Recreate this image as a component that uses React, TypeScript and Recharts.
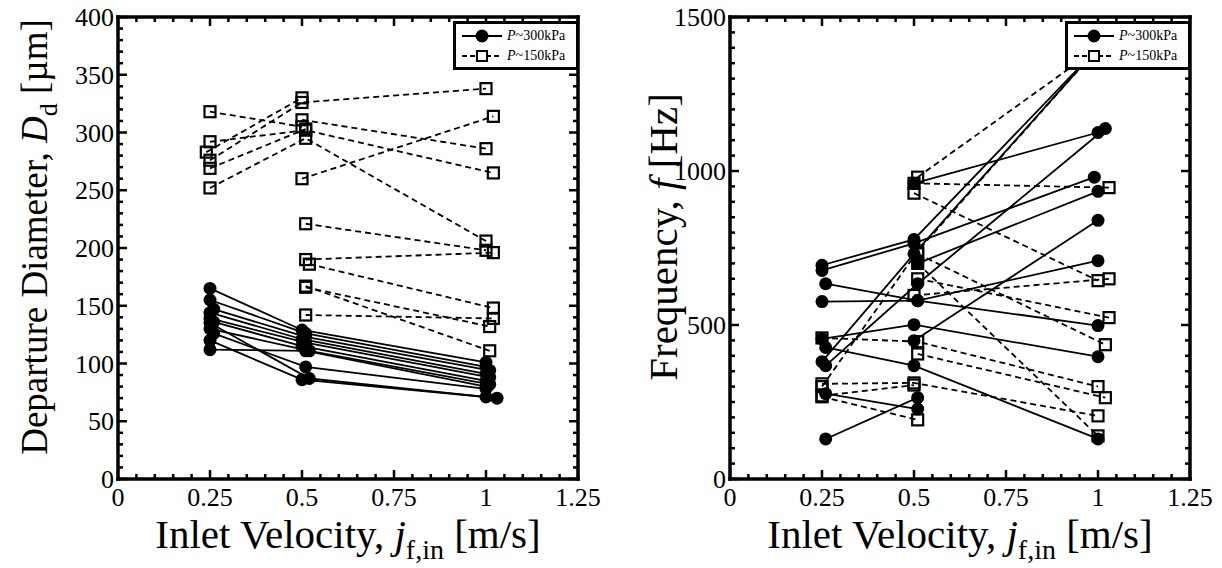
import React from 'react';
import { LineChart, Line, XAxis, YAxis, Legend } from 'recharts';

const FONT = '"Liberation Serif", "Times New Roman", Times, serif';

type Pt = [number, number];

// ---------- axis ticks ----------
const xMajorTicks = [0, 0.25, 0.5, 0.75, 1, 1.25];
const xMinorStep = 0.05;
const xMax = 1.25;

const ddMajorTicks = [0, 50, 100, 150, 200, 250, 300, 350, 400];
const ddMinorStep = 10;
const ddMax = 400;

const fMajorTicks = [0, 500, 1000, 1500];
const fMinorStep = 50;
const fMax = 1500;

// ---------- Departure diameter (um) ----------
// P ~ 300 kPa (solid, filled circles)
const dd300_1: Pt[] = [[0.25, 165], [0.5, 129], [1.0, 101]];
const dd300_2: Pt[] = [[0.25, 155], [0.51, 126], [1.0, 97]];
const dd300_3: Pt[] = [[0.26, 147], [0.51, 123], [1.01, 94]];
const dd300_4: Pt[] = [[0.25, 144], [0.5, 121], [1.0, 91]];
const dd300_5: Pt[] = [[0.25, 139], [0.51, 118], [1.01, 88]];
const dd300_6: Pt[] = [[0.26, 136], [0.5, 115], [1.0, 85]];
const dd300_7: Pt[] = [[0.25, 130], [0.52, 111], [1.01, 82]];
const dd300_8: Pt[] = [[0.26, 126], [0.51, 97], [1.0, 78]];
const dd300_9: Pt[] = [[0.25, 120], [0.5, 86], [1.0, 71]];
const dd300_10: Pt[] = [[0.25, 112], [0.51, 111], [1.0, 80]];
const dd300_11: Pt[] = [[0.25, 135], [0.52, 87], [1.03, 70]];
// P ~ 150 kPa (dashed, open squares)
const dd150_1: Pt[] = [[0.25, 318], [0.5, 305]];
const dd150_2: Pt[] = [[0.25, 292], [0.51, 302], [1.02, 265]];
const dd150_3: Pt[] = [[0.24, 283], [0.5, 330]];
const dd150_4: Pt[] = [[0.25, 276], [0.5, 326], [1.0, 338]];
const dd150_5: Pt[] = [[0.25, 269], [0.51, 303]];
const dd150_6: Pt[] = [[0.25, 252], [0.51, 295], [1.0, 206]];
const dd150_7: Pt[] = [[0.5, 311], [1.0, 286]];
const dd150_8: Pt[] = [[0.5, 260], [1.02, 314]];
const dd150_9: Pt[] = [[0.51, 221], [1.0, 198]];
const dd150_10: Pt[] = [[0.51, 190], [1.02, 196]];
const dd150_11: Pt[] = [[0.52, 186], [1.02, 148]];
const dd150_12: Pt[] = [[0.51, 166], [1.01, 132]];
const dd150_13: Pt[] = [[0.51, 167], [1.01, 111]];
const dd150_14: Pt[] = [[0.51, 142], [1.02, 139]];

const dd300Series = [dd300_1, dd300_2, dd300_3, dd300_4, dd300_5, dd300_6, dd300_7, dd300_8, dd300_9, dd300_10, dd300_11];
const dd150Series = [dd150_1, dd150_2, dd150_3, dd150_4, dd150_5, dd150_6, dd150_7, dd150_8, dd150_9, dd150_10, dd150_11, dd150_12, dd150_13, dd150_14];

// ---------- Frequency (Hz) ----------
// P ~ 300 kPa
const f300_1: Pt[] = [[0.25, 694], [0.5, 778], [1.0, 1400]];
const f300_2: Pt[] = [[0.25, 677], [0.5, 765], [0.99, 980]];
const f300_3: Pt[] = [[0.26, 634], [0.51, 579], [1.0, 498]];
const f300_4: Pt[] = [[0.25, 576], [0.51, 579], [1.0, 709]];
const f300_5: Pt[] = [[0.25, 455], [0.5, 501], [1.0, 397]];
const f300_6: Pt[] = [[0.26, 427], [0.5, 368], [1.0, 130]];
const f300_7: Pt[] = [[0.25, 381], [0.5, 731], [1.0, 1400]];
const f300_8: Pt[] = [[0.26, 368], [0.51, 634], [1.02, 1138]];
const f300_9: Pt[] = [[0.26, 277], [0.51, 227]];
const f300_10: Pt[] = [[0.26, 130], [0.51, 264]];
const f300_11: Pt[] = [[0.5, 960], [1.0, 1125]];
const f300_12: Pt[] = [[0.5, 449], [1.0, 840]];
const f300_13: Pt[] = [[0.51, 700], [1.0, 934]];
// P ~ 150 kPa
const f150_1: Pt[] = [[0.25, 458], [0.51, 446], [1.0, 300]];
const f150_2: Pt[] = [[0.25, 309], [0.5, 312], [1.0, 205]];
const f150_3: Pt[] = [[0.25, 267], [0.51, 192]];
const f150_4: Pt[] = [[0.25, 300], [0.51, 740], [1.0, 1400]];
const f150_5: Pt[] = [[0.51, 980], [1.0, 1400]];
const f150_6: Pt[] = [[0.5, 960], [1.03, 946]];
const f150_7: Pt[] = [[0.5, 928], [1.0, 644]];
const f150_8: Pt[] = [[0.5, 596], [1.03, 650]];
const f150_9: Pt[] = [[0.51, 650], [1.03, 524]];
const f150_10: Pt[] = [[0.51, 731], [1.02, 436]];
const f150_11: Pt[] = [[0.51, 700], [1.0, 140]];
const f150_12: Pt[] = [[0.51, 406], [1.02, 264]];
const f150_13: Pt[] = [[0.25, 270], [0.5, 305]];

const f300Series = [f300_1, f300_2, f300_3, f300_4, f300_5, f300_6, f300_7, f300_8, f300_9, f300_10, f300_11, f300_12, f300_13];
const f150Series = [f150_1, f150_2, f150_3, f150_4, f150_5, f150_6, f150_7, f150_8, f150_9, f150_10, f150_11, f150_12, f150_13];

// ---------- legend ----------
const legendItems = [
  { sym: 'P', label: '~300kPa', dashed: false },
  { sym: 'P', label: '~150kPa', dashed: true },
];

// ---------- helpers ----------
const makeTicks = (max: number, step: number) => {
  const out: number[] = [];
  const n = Math.round(max / step);
  for (let i = 0; i <= n; i++) out.push(Number((i * step).toFixed(4)));
  return out;
};
const isMajor = (v: number, majors: number[]) => majors.some((m) => Math.abs(m - v) < 1e-6);
const toObj = (s: Pt[]) => s.map(([x, y]) => ({ x, y }));

const TICK_SW = 2.5;
const MAJ_LEN = 9;
const MIN_LEN = 5;
const TICK_FS = 26;

const BottomTick = (p: any) => {
  const { x, y, payload, majors } = p;
  const major = isMajor(payload.value, majors);
  return (
    <g>
      <line x1={x} x2={x} y1={y} y2={y - (major ? MAJ_LEN : MIN_LEN)} stroke="#000" strokeWidth={TICK_SW} />
      {major && (
        <text x={x} y={y + 27} textAnchor="middle" fontFamily={FONT} fontSize={TICK_FS} fill="#000">
          {String(payload.value)}
        </text>
      )}
    </g>
  );
};
const TopTick = (p: any) => {
  const { x, y, payload, majors } = p;
  const major = isMajor(payload.value, majors);
  return <line x1={x} x2={x} y1={y} y2={y + (major ? MAJ_LEN : MIN_LEN)} stroke="#000" strokeWidth={TICK_SW} />;
};
const LeftTick = (p: any) => {
  const { x, y, payload, majors } = p;
  const major = isMajor(payload.value, majors);
  return (
    <g>
      <line x1={x} x2={x + (major ? MAJ_LEN : MIN_LEN)} y1={y} y2={y} stroke="#000" strokeWidth={TICK_SW} />
      {major && (
        <text x={x - 4} y={y + 9} textAnchor="end" fontFamily={FONT} fontSize={TICK_FS} fill="#000">
          {String(payload.value)}
        </text>
      )}
    </g>
  );
};
const RightTick = (p: any) => {
  const { x, y, payload, majors } = p;
  const major = isMajor(payload.value, majors);
  return <line x1={x} x2={x - (major ? MAJ_LEN : MIN_LEN)} y1={y} y2={y} stroke="#000" strokeWidth={TICK_SW} />;
};

const circleDot = (p: any) => {
  if (p.cx == null || p.cy == null) return <g key={`c-${p.index}`} />;
  return <circle key={`c-${p.index}`} cx={p.cx} cy={p.cy} r={6.5} fill="#000" stroke="none" />;
};
const squareDot = (p: any) => {
  if (p.cx == null || p.cy == null) return <g key={`s-${p.index}`} />;
  return (
    <rect key={`s-${p.index}`} x={p.cx - 5.5} y={p.cy - 5.5} width={11} height={11} fill="none" stroke="#000" strokeWidth={2.2} />
  );
};

const LegendBox = () => (
  <div
    style={{
      border: '3px solid #000',
      background: '#fff',
      width: 115,
      padding: '2px 0 1px 5px',
      fontFamily: FONT,
      fontSize: 14,
      lineHeight: '20px',
      boxSizing: 'content-box',
    }}
  >
    {legendItems.map((it, i) => (
      <div key={i} style={{ display: 'flex', alignItems: 'center', height: 20 }}>
        <svg width={42} height={16} style={{ display: 'block' }}>
          <line x1={1} x2={41} y1={8} y2={8} stroke="#000" strokeWidth={1.8} strokeDasharray={it.dashed ? '5 3' : undefined} />
          {it.dashed ? (
            <rect x={16} y={3} width={10} height={10} fill="#fff" stroke="#000" strokeWidth={2} />
          ) : (
            <circle cx={21} cy={8} r={6.5} fill="#000" />
          )}
        </svg>
        <span style={{ marginLeft: 4, whiteSpace: 'nowrap' }}>
          <i>{it.sym}</i>
          {it.label}
        </span>
      </div>
    ))}
  </div>
);

const xTitle = (p: any) => {
  const vb = p.viewBox || {};
  return (
    <text x={vb.x + vb.width / 2} y={vb.y + 69} textAnchor="middle" fontFamily={FONT} fontSize={41} fill="#000">
      Inlet Velocity,{' '}
      <tspan fontStyle="italic">j</tspan>
      <tspan dy={11} fontSize={28}>f,in</tspan>
      <tspan dy={-11}> [m/s]</tspan>
    </text>
  );
};

const makeYTitle = (kind: 'dd' | 'f', cx: number, cy: number) => () => (
  <text
    x={cx}
    y={cy}
    transform={`rotate(-90, ${cx}, ${cy})`}
    textAnchor="middle"
    fontFamily={FONT}
    fontSize={kind === 'dd' ? 37 : 41}
    fill="#000"
  >
    {kind === 'dd' ? (
      <>
        Departure Diameter,{' '}
        <tspan fontStyle="italic">D</tspan>
        <tspan dy={10} fontSize={26}>d</tspan>
        <tspan dy={-10}> [µm]</tspan>
      </>
    ) : (
      <>
        Frequency, <tspan fontStyle="italic">f</tspan> [Hz]
      </>
    )}
  </text>
);

const axisLineStyle = { stroke: '#000', strokeWidth: 3.5, strokeLinecap: 'square' as const };

type PanelProps = {
  high: Pt[][];
  low: Pt[][];
  yMax: number;
  yMajors: number[];
  yMinorStep: number;
  kind: 'dd' | 'f';
  margin: { top: number; right: number; bottom: number; left: number };
  yTitleX: number;
  legendLeft: number;
};

const Panel = ({ high, low, yMax, yMajors, yMinorStep, kind, margin, yTitleX, legendLeft }: PanelProps) => {
  const xTicks = makeTicks(xMax, xMinorStep);
  const yTicks = makeTicks(yMax, yMinorStep);
  return (
    <LineChart width={611} height={568} margin={margin} style={{ background: '#fff' }}>
      <XAxis
        xAxisId="b"
        type="number"
        dataKey="x"
        domain={[0, xMax]}
        allowDataOverflow
        ticks={xTicks}
        interval={0}
        tickSize={0}
        tickMargin={0}
        tickLine={false}
        axisLine={axisLineStyle}
        tick={<BottomTick majors={xMajorTicks} />}
        height={89}
        label={xTitle}
      />
      <XAxis
        xAxisId="t"
        orientation="top"
        type="number"
        dataKey="x"
        domain={[0, xMax]}
        allowDataOverflow
        ticks={xTicks}
        interval={0}
        tickSize={0}
        tickMargin={0}
        tickLine={false}
        axisLine={axisLineStyle}
        tick={<TopTick majors={xMajorTicks} />}
        height={1}
      />
      <YAxis
        yAxisId="l"
        type="number"
        domain={[0, yMax]}
        allowDataOverflow
        ticks={yTicks}
        interval={0}
        tickSize={0}
        tickMargin={0}
        tickLine={false}
        axisLine={axisLineStyle}
        tick={<LeftTick majors={yMajors} />}
        width={110}
        label={makeYTitle(kind, yTitleX, 237)}
      />
      <YAxis
        yAxisId="r"
        orientation="right"
        type="number"
        domain={[0, yMax]}
        allowDataOverflow
        ticks={yTicks}
        interval={0}
        tickSize={0}
        tickMargin={0}
        tickLine={false}
        axisLine={axisLineStyle}
        tick={<RightTick majors={yMajors} />}
        width={1}
      />
      {low.map((s, i) => (
        <Line
          key={`low-${i}`}
          data={toObj(s)}
          dataKey="y"
          xAxisId="b"
          yAxisId="l"
          type="linear"
          stroke="#000"
          strokeWidth={1.8}
          strokeDasharray="6 4"
          dot={squareDot}
          activeDot={false}
          isAnimationActive={false}
          legendType="none"
        />
      ))}
      {high.map((s, i) => (
        <Line
          key={`high-${i}`}
          data={toObj(s)}
          dataKey="y"
          xAxisId="b"
          yAxisId="l"
          type="linear"
          stroke="#000"
          strokeWidth={1.8}
          dot={circleDot}
          activeDot={false}
          isAnimationActive={false}
          legendType="none"
        />
      ))}
      <Legend
        content={LegendBox}
        layout="vertical"
        align="center"
        verticalAlign="middle"
        wrapperStyle={{ left: legendLeft, top: 21, width: 'auto', height: 'auto' }}
      />
    </LineChart>
  );
}

export default function App() {
  return (
    <div style={{ position: 'absolute', left: 0, top: 0, width: 1222, height: 568, background: '#fff', display: 'flex' }}>
      <Panel
        high={dd300Series}
        low={dd150Series}
        yMax={ddMax}
        yMajors={ddMajorTicks}
        yMinorStep={ddMinorStep}
        kind="dd"
        margin={{ top: 16, right: 32, bottom: 0, left: 8 }}
        yTitleX={47}
        legendLeft={453}
      />
      <Panel
        high={f300Series}
        low={f150Series}
        yMax={fMax}
        yMajors={fMajorTicks}
        yMinorStep={fMinorStep}
        kind="f"
        margin={{ top: 16, right: 31, bottom: 0, left: 9 }}
        yTitleX={66}
        legendLeft={454}
      />
    </div>
  );
}
